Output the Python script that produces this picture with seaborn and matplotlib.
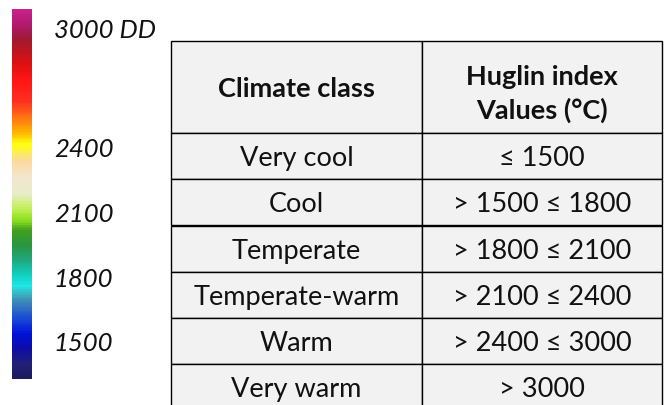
import numpy as np
import matplotlib
matplotlib.use('Agg')
import matplotlib.pyplot as plt
import seaborn as sns
from matplotlib.colors import LinearSegmentedColormap

# table content
header = ['Climate class', 'Huglin index\nValues (°C)']
climate_class = ['Very cool', 'Cool', 'Temperate', 'Temperate-warm', 'Warm', 'Very warm']
huglin_values = ['≤ 1500', '> 1500 ≤ 1800', '> 1800 ≤ 2100',
                 '> 2100 ≤ 2400', '> 2400 ≤ 3000', '> 3000']

# colour scale
scale_ticks = [1500, 1800, 2100, 2400, 3000]
scale_labels = ['1500', '1800', '2100', '2400', '3000 DD']
scale_min, scale_max = 1328, 3045
stop_pos = [0.0, 0.04, 0.08, 0.12, 0.16, 0.19, 0.22, 0.25, 0.28, 0.32, 0.36,
            0.40, 0.43, 0.465, 0.50, 0.545, 0.59, 0.635, 0.67, 0.70, 0.75,
            0.81, 0.855, 0.92, 0.96, 1.0]
stop_colors = ['#1c1c5e', '#20207a', '#0c0ca8', '#0010d8', '#1848d8', '#3070c0',
               '#40a0b8', '#20e8e8', '#10d0c0', '#20a880', '#2a9440', '#40a020',
               '#90e020', '#c8f060', '#e8ecc8', '#f3e6d0', '#fbd9a0', '#ffff10',
               '#ffb000', '#ff8010', '#ff3020', '#ff1515', '#dd1010', '#a01a30',
               '#b01a70', '#c8208c']

sns.set_theme(style='white')
plt.rcParams['font.family'] = ['Lato', 'DejaVu Sans']

cmap = LinearSegmentedColormap.from_list('huglin', list(zip(stop_pos, stop_colors)))

fig = plt.figure(figsize=(6.64, 4.05), dpi=100)
fig.patch.set_facecolor('white')

# colour bar drawn as a one-column heatmap
n = 400
grad = np.linspace(scale_max, scale_min, n)[:, None]
ax_bar = fig.add_axes([11.7 / 664, 26 / 405, 20.6 / 664, 370 / 405])
sns.heatmap(grad, ax=ax_bar, cmap=cmap, vmin=scale_min, vmax=scale_max,
            cbar=False, xticklabels=False, yticklabels=False)
tick_rows = [(scale_max - v) / (scale_max - scale_min) * n for v in scale_ticks]
ax_bar.yaxis.tick_right()
ax_bar.set_yticks(tick_rows)
ax_bar.set_yticklabels(scale_labels, fontstyle='italic', fontsize=18.5,
                       color='#111111', rotation=0)
ax_bar.tick_params(axis='y', length=0, pad=15.5, right=True, left=False)
ax_bar.get_yticklabels()[-1].set_verticalalignment('top')
for s in ax_bar.spines.values():
    s.set_visible(False)

# table
ax_t = fig.add_axes([171 / 664, -5 / 405, 491 / 664, 369 / 405])
ax_t.axis('off')
tbl = ax_t.table(cellText=list(zip(climate_class, huglin_values)),
                 colLabels=header, colWidths=[251 / 491, 240 / 491],
                 cellLoc='center', bbox=[0, 0, 1, 1])
tbl.auto_set_font_size(False)
tbl.set_fontsize(19.5)
body_h = tbl[1, 0].get_height()
for (r, c), cell in tbl.get_celld().items():
    cell.set_facecolor('#f2f2f2')
    cell.set_edgecolor('black')
    cell.set_linewidth(1.0)
    txt = cell.get_text()
    txt.set_color('#111111')
    txt.set_verticalalignment('center_baseline')
    if r == 0:
        cell.set_height(2 * body_h)
        txt.set_fontweight('bold')
        txt.set_linespacing(1.45)

fig.savefig('out.png', dpi=100)
